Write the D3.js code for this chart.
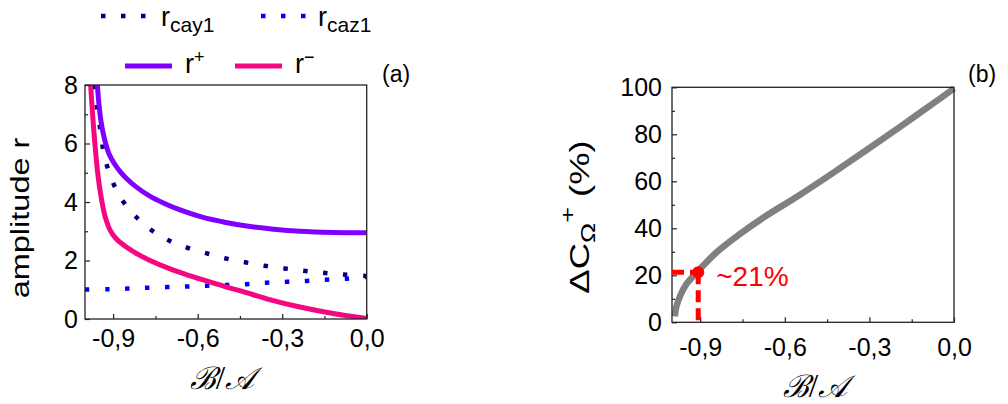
<!DOCTYPE html>
<html><head><meta charset="utf-8">
<script src="https://cdn.jsdelivr.net/npm/d3@7"></script>
<style>
body{margin:0;background:#fff;}
svg{display:block;}
text{font-family:Arial,"Liberation Sans",sans-serif;}
</style></head><body>
<svg id="chart" width="1008" height="404"></svg>
<script>
// ---- tick data ----
const xTickValues = [-0.9, -0.6, -0.3, 0.0];
const xTickLabels = ["-0,9", "-0,6", "-0,3", "0,0"];
const xMinorTicks = [-0.75, -0.45, -0.15];
const yTicksA = [0, 2, 4, 6, 8];
const yMinorA = [1, 3, 5, 7];
const yTicksB = [0, 20, 40, 60, 80, 100];
const yMinorB = [10, 30, 50, 70, 90];

// ---- panel (a) series ----
const rPlusX = [-0.956, -0.95, -0.943, -0.932, -0.915, -0.895, -0.876, -0.85, -0.816, -0.77, -0.72, -0.66, -0.59, -0.5, -0.42, -0.33, -0.237, -0.119, 0];
const rPlusY = [8.0, 7.3, 6.75, 6.2, 5.65, 5.3, 5.05, 4.78, 4.5, 4.2, 3.96, 3.72, 3.5, 3.3, 3.17, 3.07, 3.0, 2.96, 2.95];
const rMinusX = [-0.98, -0.973, -0.967, -0.956, -0.945, -0.93, -0.911, -0.89, -0.852, -0.81, -0.769, -0.7, -0.641, -0.592, -0.5, -0.43, -0.355, -0.237, -0.119, 0];
const rMinusY = [8.0, 7.0, 6.23, 5.09, 4.3, 3.55, 3.04, 2.75, 2.45, 2.2, 2.0, 1.72, 1.52, 1.37, 1.1, 0.91, 0.69, 0.41, 0.19, 0.02];
const rCay1X = [-0.966, -0.958, -0.947, -0.937, -0.921, -0.897, -0.864, -0.822, -0.769, -0.706, -0.641, -0.570, -0.5, -0.432, -0.363, -0.293, -0.225, -0.156, -0.085, 0];
const rCay1Y = [8.0, 7.26, 6.55, 5.87, 5.21, 4.58, 4.01, 3.52, 3.07, 2.70, 2.45, 2.25, 2.07, 1.94, 1.82, 1.73, 1.65, 1.58, 1.52, 1.47];
const rCaz1X = [-1.0, -0.918, -0.848, -0.779, -0.709, -0.639, -0.569, -0.5, -0.428, -0.357, -0.286, -0.215, -0.145, -0.073, 0];
const rCaz1Y = [1.01, 1.02, 1.04, 1.07, 1.09, 1.11, 1.14, 1.16, 1.19, 1.24, 1.27, 1.30, 1.34, 1.38, 1.44];

// ---- panel (b) series ----
const dCX = [-0.99, -0.985, -0.97, -0.95, -0.91, -0.84, -0.76, -0.67, -0.55, -0.43, -0.31, -0.19, -0.07, 0];
const dCY = [2.5, 6.5, 11.5, 16, 21.5, 30, 37.5, 45, 54, 63.5, 73.3, 83.3, 93.5, 99.5];
const markerX = [-0.907];
const markerY = [21.3];
const markerLabel = ["~21%"];

const svg = d3.select("#chart");
const zip = (xs, ys) => xs.map((x, i) => [x, ys[i]]);

// ---- scales ----
const xA = d3.scaleLinear().domain([-1, 0]).range([85, 366.7]);
const yA = d3.scaleLinear().domain([0, 8]).range([319, 85]);
const xB = d3.scaleLinear().domain([-1, 0]).range([672, 954]);
const yB = d3.scaleLinear().domain([0, 100]).range([322.3, 87.3]);

function drawAxes(x, y, yMajor, yMinor, xPad, yPad) {
  const [x0, x1] = x.range();
  const [y1, y0] = y.range();
  const g = svg.append("g");
  g.append("rect").attr("x", x0).attr("y", y0).attr("width", x1 - x0).attr("height", y1 - y0)
    .attr("fill", "none").attr("stroke", "#222").attr("stroke-width", 1.3);
  const xa = g.append("g").attr("transform", `translate(0,${y1})`)
    .call(d3.axisBottom(x).tickValues(xTickValues).tickFormat((d, i) => xTickLabels[i])
      .tickSizeInner(-5).tickSizeOuter(0).tickPadding(xPad));
  const xm = g.append("g").attr("transform", `translate(0,${y1})`)
    .call(d3.axisBottom(x).tickValues(xMinorTicks).tickFormat("").tickSizeInner(-3).tickSizeOuter(0));
  const ya = g.append("g").attr("transform", `translate(${x0},0)`)
    .call(d3.axisLeft(y).tickValues(yMajor).tickFormat(d3.format("d"))
      .tickSizeInner(-5).tickSizeOuter(0).tickPadding(yPad));
  const ym = g.append("g").attr("transform", `translate(${x0},0)`)
    .call(d3.axisLeft(y).tickValues(yMinor).tickFormat("").tickSizeInner(-3).tickSizeOuter(0));
  [xa, xm, ya, ym].forEach(a => {
    a.select(".domain").remove();
    a.selectAll("line").attr("stroke", "#222").attr("stroke-width", 1.2);
    a.selectAll("text").attr("font-size", 25).attr("font-family", "Arial, 'Liberation Sans', sans-serif").attr("fill", "#000");
  });
}

const smooth = d3.curveCatmullRom.alpha(0.5);

// ---- panel (a) ----
svg.append("defs").append("clipPath").attr("id", "clipA").append("rect")
  .attr("x", 85).attr("y", 85).attr("width", 366.7 - 85).attr("height", 319 - 85);
const lineA = d3.line().x(d => xA(d[0])).y(d => yA(d[1])).curve(smooth);
const gA = svg.append("g").attr("clip-path", "url(#clipA)");
gA.append("path").attr("d", lineA(zip(rCaz1X, rCaz1Y))).attr("fill", "none")
  .attr("stroke", "#0000ff").attr("stroke-width", 4.5).attr("stroke-dasharray", "4.5,15.5");
gA.append("path").attr("d", lineA(zip(rCay1X, rCay1Y))).attr("fill", "none")
  .attr("stroke", "#000080").attr("stroke-width", 4.5).attr("stroke-dasharray", "4.5,15.5");
gA.append("path").attr("d", lineA(zip(rPlusX, rPlusY))).attr("fill", "none")
  .attr("stroke", "#8000ff").attr("stroke-width", 5);
gA.append("path").attr("d", lineA(zip(rMinusX, rMinusY))).attr("fill", "none")
  .attr("stroke", "#f5077f").attr("stroke-width", 5);
drawAxes(xA, yA, yTicksA, yMinorA, 10, 7);

// ---- panel (b) ----
const lineB = d3.line().x(d => xB(d[0])).y(d => yB(d[1])).curve(smooth);
svg.append("path").attr("d", lineB(zip(dCX, dCY))).attr("fill", "none")
  .attr("stroke", "#808080").attr("stroke-width", 6.5);
drawAxes(xB, yB, yTicksB, yMinorB, 16, 10);
const mk = svg.append("g");
mk.append("line").attr("x1", xB(-1)).attr("x2", xB(markerX[0])).attr("y1", yB(markerY[0])).attr("y2", yB(markerY[0]))
  .attr("stroke", "#ff0000").attr("stroke-width", 5).attr("stroke-dasharray", "12,6");
mk.append("line").attr("x1", xB(markerX[0])).attr("x2", xB(markerX[0])).attr("y1", yB(markerY[0])).attr("y2", yB(0))
  .attr("stroke", "#ff0000").attr("stroke-width", 5).attr("stroke-dasharray", "12,6");
mk.append("circle").attr("cx", xB(markerX[0])).attr("cy", yB(markerY[0])).attr("r", 6).attr("fill", "#ff0000");
mk.append("text").attr("x", xB(markerX[0]) + 18).attr("y", yB(markerY[0]) + 14)
  .attr("font-size", 28).attr("fill", "#ff0000").text(markerLabel[0]);

// ---- axis titles ----
svg.append("text").attr("transform", "translate(29,218) rotate(-90) scale(1.3,1)")
  .attr("text-anchor", "middle").attr("font-size", 25).text("amplitude r");
const yl = svg.append("text").attr("transform", "translate(589,217) rotate(-90) scale(1.35,1)")
  .attr("text-anchor", "middle").attr("font-size", 27);
yl.append("tspan").text("ΔC");
yl.append("tspan").attr("font-size", 20).attr("dy", 6).text("Ω");
yl.append("tspan").attr("font-size", 20).attr("dy", -20).text("+");
yl.append("tspan").attr("dy", 14).text(" (%)");

[[222, 389], [815, 397]].forEach(([cx, by]) => {
  const t = svg.append("text").attr("x", cx).attr("y", by).attr("text-anchor", "middle")
    .attr("font-family", "'DejaVu Serif', 'Liberation Serif', serif").attr("font-size", 31);
  t.append("tspan").attr("font-style", "italic").text("ℬ");
  t.append("tspan").attr("font-family", "'Liberation Serif', serif").attr("font-size", 34).text("/");
  t.append("tspan").attr("font-style", "italic").text("𝒜");
});

// ---- panel labels ----
svg.append("text").attr("x", 382).attr("y", 82).attr("font-family", "'Liberation Serif', serif").attr("font-size", 23).text("(a)");
svg.append("text").attr("x", 968).attr("y", 82).attr("font-family", "'Liberation Serif', serif").attr("font-size", 23).text("(b)");

// ---- legend ----
const legendNames = ["cay1", "caz1"];
const legendColors = ["#000080", "#0000ff", "#8000ff", "#f5077f"];
const lg = svg.append("g");
[[101, 161], [261, 318]].forEach(([lx, tx], i) => {
  lg.append("line").attr("x1", lx).attr("x2", lx + 45).attr("y1", 16).attr("y2", 16)
    .attr("stroke", legendColors[i]).attr("stroke-width", 4.5).attr("stroke-dasharray", "4.5,15.5");
  const t = lg.append("text").attr("x", tx).attr("y", 26).attr("font-size", 27);
  t.append("tspan").text("r");
  t.append("tspan").attr("font-size", 21).attr("dy", 6).text(legendNames[i]);
});
[[125, 185, "+"], [235, 295, "\u2212"]].forEach(([lx, tx, s], i) => {
  lg.append("line").attr("x1", lx).attr("x2", lx + 47).attr("y1", 66).attr("y2", 66)
    .attr("stroke", legendColors[i + 2]).attr("stroke-width", 5);
  const t = lg.append("text").attr("x", tx).attr("y", 73).attr("font-size", 27);
  t.append("tspan").text("r");
  t.append("tspan").attr("font-size", 18).attr("dy", -10).text(s);
});
</script>
</body></html>
